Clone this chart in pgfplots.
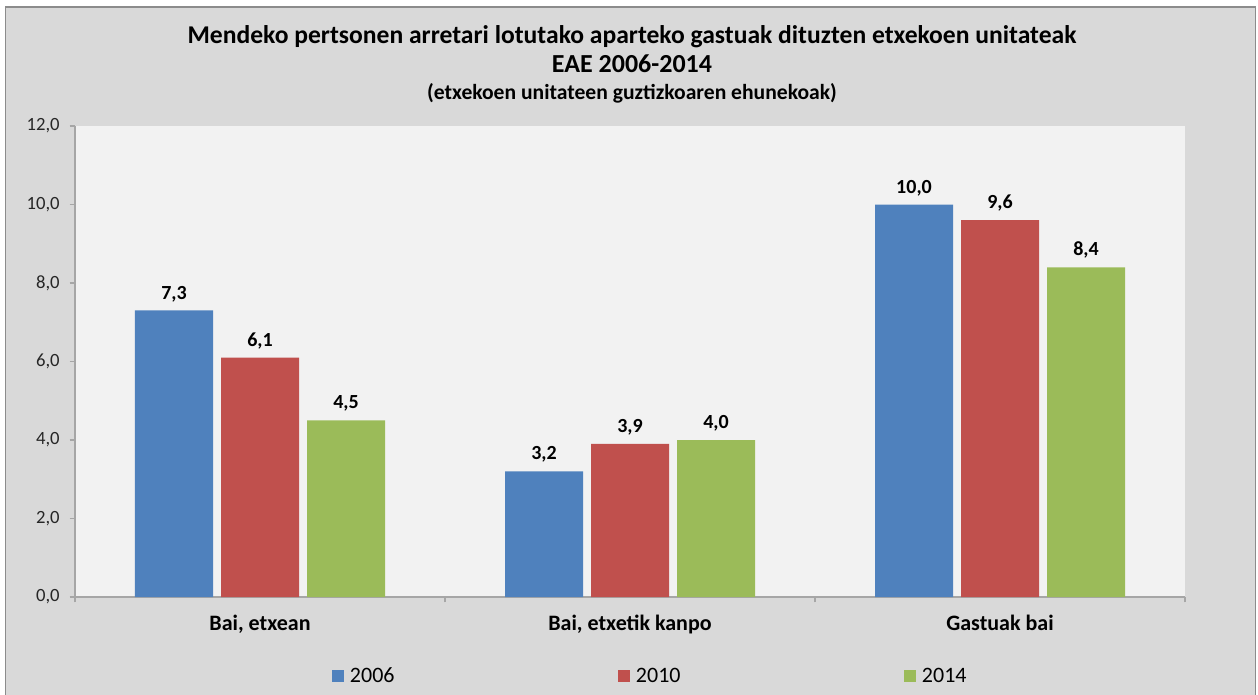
\documentclass[border=0pt]{standalone}
\usepackage{pgfplots}
\pgfplotsset{compat=1.18}
\usepackage{fontspec}
\setmainfont{Carlito}
\definecolor{bgout}{HTML}{D9D9D9}
\definecolor{bgplot}{HTML}{F2F2F2}
\definecolor{bord}{HTML}{8C8C8C}
\definecolor{axgray}{HTML}{A6A6A6}
\definecolor{cblue}{HTML}{4F81BD}
\definecolor{cred}{HTML}{C0504D}
\definecolor{cgreen}{HTML}{9BBB59}
\pgfplotsset{sqlegend/.style={legend image code/.code={\fill[##1] (0pt,-4.5pt) rectangle (9pt,4.5pt);}}}
\begin{document}
\begin{tikzpicture}[x=0.75pt,y=0.75pt]
\path[use as bounding box] (0,0) rectangle (1258,694);
\fill[white] (0,0) rectangle (1258,694);
\filldraw[fill=bgout, draw=bord, line width=1.2pt] (5.5,-10) rectangle (1255.5,687);
\node[anchor=base, font=\bfseries\fontsize{19.2}{22}\selectfont] at (632,650) {Mendeko pertsonen arretari lotutako aparteko gastuak dituzten etxekoen unitateak};
\node[anchor=base, font=\bfseries\fontsize{19.5}{22}\selectfont] at (632,621.3) {EAE 2006-2014};
\node[anchor=base, font=\bfseries\fontsize{16.2}{19}\selectfont] at (632,594) {(etxekoen unitateen guztizkoaren ehunekoak)};
\begin{axis}[
  at={(56.25pt,72.75pt)}, anchor=south west,
  scale only axis, width=832.5pt, height=353.25pt,
  xmin=-0.5, xmax=2.5, ymin=0, ymax=12,
  axis background/.style={fill=bgplot},
  axis lines*=left,
  axis line style={-, draw=axgray, line width=0.8pt},
  tick style={draw=axgray, line width=0.8pt},
  tick align=outside, major tick length=4pt,
  ytick={0,2,4,6,8,10,12},
  scaled y ticks=false,
  yticklabel style={font=\fontsize{14}{16}\selectfont, text=black!85, xshift=-4pt,
    /pgf/number format/fixed, /pgf/number format/fixed zerofill,
    /pgf/number format/precision=1, /pgf/number format/use comma,
    /pgf/number format/assume math mode=true},
  xtick={-0.5,0.5,1.5,2.5}, xticklabels={},
  extra x ticks={0,1,2},
  extra x tick labels={{Bai, etxean},{Bai, etxetik kanpo},{Gastuak bai}},
  extra x tick style={major tick length=0pt, tick label style={font=\bfseries\fontsize{16.5}{19}\selectfont, yshift=-10pt}},
  ybar=6pt, bar width=58.5pt,
  nodes near coords,
  nodes near coords style={font=\bfseries\fontsize{15}{17}\selectfont,
    /pgf/number format/fixed, /pgf/number format/fixed zerofill,
    /pgf/number format/precision=1, /pgf/number format/use comma,
    /pgf/number format/assume math mode=true, anchor=base, yshift=8.6pt, inner sep=0pt},
  legend columns=3,
  legend style={at={(0.2315,-0.1677)}, anchor=west, draw=none, fill=none,
    inner sep=0pt, outer sep=0pt, font=\fontsize{16.5}{19}\selectfont,
    nodes={inner sep=0pt, text width=201pt, align=left},
    /tikz/every odd column/.append style={column sep=4.5pt}},
]
\addplot[fill=cblue, draw=none, sqlegend] coordinates {(0,7.3) (1,3.2) (2,10.0)};
\addplot[fill=cred, draw=none, sqlegend] coordinates {(0,6.1) (1,3.9) (2,9.6)};
\addplot[fill=cgreen, draw=none, sqlegend] coordinates {(0,4.5) (1,4.0) (2,8.4)};
\legend{2006,2010,2014}
\end{axis}
\end{tikzpicture}
\end{document}
